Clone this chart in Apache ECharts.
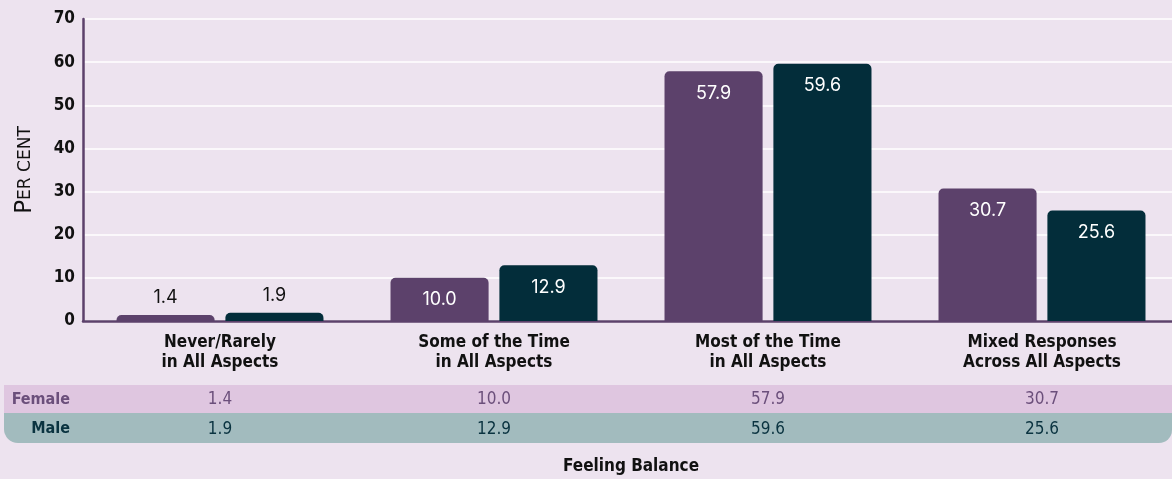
<!DOCTYPE html>
<html>
<head>
<meta charset="utf-8">
<script src="https://cdn.jsdelivr.net/npm/echarts@6/dist/echarts.min.js"></script>
<style>
html,body{margin:0;padding:0;background:#ede3ef;}
#chart{width:1172px;height:479px;}
</style>
</head>
<body>
<div id="chart"></div>
<script>
const categories = ["Never/Rarely\nin All Aspects", "Some of the Time\nin All Aspects", "Most of the Time\nin All Aspects", "Mixed Responses\nAcross All Aspects"];
const female = [1.4, 10.0, 57.9, 30.7];
const male = [1.9, 12.9, 59.6, 25.6];
const yTicks = [0, 10, 20, 30, 40, 50, 60, 70];
const seriesNames = ["Female", "Male"];

const BG = '#ede3ef';
const FEM = '#5c416b';
const MAL = '#032d3a';
const COND = '"Liberation Sans Narrow", "DejaVu Sans Condensed", sans-serif';
const VALFONT = 'Inter, "Noto Sans", sans-serif';

function items(arr) {
  return arr.map(v => ({
    value: v,
    label: v < 5
      ? { position: 'top', distance: 8, color: '#111' }
      : { position: 'insideTop', distance: 13, color: '#fff' }
  }));
}

const chart = echarts.init(document.getElementById('chart'), null, {renderer: 'canvas'});
chart.setOption({
  backgroundColor: BG,
  animation: false,
  grid: { left: 83, right: -7, top: 19, bottom: 158, containLabel: false, outerBoundsMode: 'none' },
  xAxis: [
    {
      type: 'category', data: categories, position: 'bottom',
      axisLine: { show: true, lineStyle: { color: FEM, width: 2.5 } },
      axisTick: { show: false },
      axisLabel: { color: '#111', fontFamily: COND, fontWeight: 'bold', fontSize: 17, lineHeight: 20, margin: 12 },
      name: 'Feeling Balance', nameLocation: 'middle', nameGap: 137,
      nameTextStyle: { color: '#111', fontFamily: COND, fontWeight: 'bold', fontSize: 17 }
    },
    {
      type: 'category', data: female.map(v => v.toFixed(1)), position: 'bottom', offset: 70,
      axisLine: { show: false }, axisTick: { show: false },
      axisLabel: { color: '#6b4f7b', fontFamily: COND, fontSize: 17, margin: 0 }
    },
    {
      type: 'category', data: male.map(v => v.toFixed(1)), position: 'bottom', offset: 100,
      axisLine: { show: false }, axisTick: { show: false },
      axisLabel: { color: '#0a3340', fontFamily: COND, fontSize: 17, margin: 0 }
    }
  ],
  yAxis: {
    type: 'value', min: 0, max: 70, interval: 10,
    axisLine: { show: true, lineStyle: { color: FEM, width: 2.5 } },
    axisTick: { show: false },
    splitLine: { show: true, lineStyle: { color: '#ffffff', width: 1.5 } },
    axisLabel: {
      color: '#111', fontFamily: COND, fontWeight: 'bold', fontSize: 17, margin: 8,
      formatter: v => yTicks.includes(v) ? String(v) : ''
    },
    name: '{big|P}{sm|ER CENT}', nameLocation: 'middle', nameGap: 46, nameRotate: 90,
    nameTextStyle: {
      rich: {
        big: { fontFamily: '"DejaVu Sans", sans-serif', fontSize: 23, color: '#111' },
        sm: { fontFamily: '"DejaVu Sans", sans-serif', fontSize: 17, color: '#111' }
      }
    }
  },
  graphic: [
    { type: 'rect', z: -1, shape: { x: 4, y: 385, width: 1172, height: 28 }, style: { fill: '#dfc6e0' } },
    { type: 'rect', z: -1, shape: { x: 4, y: 413, width: 1168, height: 30, r: [0, 0, 13, 14] }, style: { fill: '#a2bbbe' } },
    { type: 'text', z: 5, style: { x: 70, y: 400, text: seriesNames[0], align: 'right', verticalAlign: 'middle', fill: '#6b4f7b', font: 'bold 16px ' + COND } },
    { type: 'text', z: 5, style: { x: 70, y: 429, text: seriesNames[1], align: 'right', verticalAlign: 'middle', fill: '#0a3340', font: 'bold 16px ' + COND } }
  ],
  series: [
    {
      name: seriesNames[0], type: 'bar', data: items(female), barWidth: '35.8%', barGap: '11%',
      itemStyle: { color: FEM, borderRadius: [5, 5, 0, 0] },
      label: { show: true, fontFamily: VALFONT, fontSize: 18, formatter: p => p.value.toFixed(1) }
    },
    {
      name: seriesNames[1], type: 'bar', data: items(male), barWidth: '35.8%', barGap: '11%',
      itemStyle: { color: MAL, borderRadius: [5, 5, 0, 0] },
      label: { show: true, fontFamily: VALFONT, fontSize: 18, formatter: p => p.value.toFixed(1) }
    }
  ]
});
</script>
</body>
</html>
